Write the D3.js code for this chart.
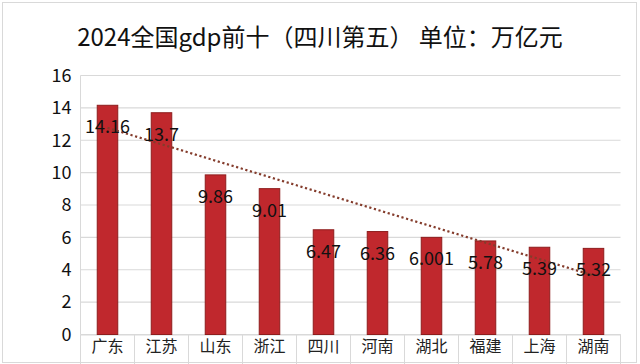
<!DOCTYPE html>
<html>
<head>
<meta charset="utf-8">
<script src="https://cdn.jsdelivr.net/npm/d3@7"></script>
<style>
  html, body { margin: 0; padding: 0; background: #fff; }
  text { font-family: "Noto Sans CJK SC", "Noto Sans", sans-serif; }
</style>
</head>
<body>
<div id="chart"></div>
<script>
// 数据
const provinces = ["广东", "江苏", "山东", "浙江", "四川", "河南", "湖北", "福建", "上海", "湖南"];
const gdp = [14.16, 13.7, 9.86, 9.01, 6.47, 6.36, 6.001, 5.78, 5.39, 5.32];
const yTicks = [0, 2, 4, 6, 8, 10, 12, 14, 16];
const title = "2024全国gdp前十（四川第五） 单位：万亿元";

const W = 640, H = 364;
const margin = {top: 75.5, right: 19.5, bottom: 29.5, left: 80.5};
const width = W - margin.left - margin.right,
  height = H - margin.top - margin.bottom;

const svg = d3.select("#chart").append("svg")
  .attr("width", W)
  .attr("height", H);

// 外框
svg.append("rect")
  .attr("x", 2.5).attr("y", 2.5)
  .attr("width", 634).attr("height", 360)
  .attr("fill", "none")
  .attr("stroke", "#d9d9d9");

svg.append("text")
  .attr("x", 320).attr("y", 46)
  .attr("text-anchor", "middle")
  .attr("font-size", "24px")
  .attr("fill", "#111")
  .text(title);

const g = svg.append("g")
  .attr("transform", "translate(" + margin.left + "," + margin.top + ")");

const x = d3.scaleBand().domain(provinces).range([0, width]);
const y = d3.scaleLinear().domain([0, 16]).range([height, 0]);

// 网格线
g.selectAll(".grid")
  .data(yTicks)
  .enter().append("line")
    .attr("x1", 0).attr("x2", width)
    .attr("y1", d => y(d)).attr("y2", d => y(d))
    .attr("stroke", "#d9d9d9")
    .attr("stroke-width", 1.2);

g.append("line")
  .attr("x1", 0).attr("x2", 0)
  .attr("y1", 0).attr("y2", height)
  .attr("stroke", "#d9d9d9");

// y 轴
const yAxis = g.append("g")
  .call(d3.axisLeft(y).tickValues(yTicks).tickSize(0).tickPadding(9));
yAxis.select(".domain").remove();
yAxis.selectAll("text")
  .attr("font-size", "18px")
  .attr("fill", "#111")
  .attr("font-family", "'Noto Sans CJK SC', sans-serif");

// x 轴分隔线
const edges = provinces.map(p => x(p)).concat([width]);
g.selectAll(".sep")
  .data(edges)
  .enter().append("line")
    .attr("x1", d => d).attr("x2", d => d)
    .attr("y1", height).attr("y2", height + 30)
    .attr("stroke", "#d9d9d9");

const xAxis = g.append("g")
  .attr("transform", "translate(0," + height + ")")
  .call(d3.axisBottom(x).tickSize(0).tickPadding(6));
xAxis.select(".domain").attr("stroke", "#d9d9d9");
xAxis.selectAll("text")
  .attr("font-size", "16px")
  .attr("fill", "#222")
  .attr("font-family", "'Noto Sans CJK SC', sans-serif");

// 柱子
const barW = x.bandwidth() * 0.38;
g.selectAll(".bar")
  .data(gdp)
  .enter().append("rect")
    .attr("x", (d, i) => x(provinces[i]) + (x.bandwidth() - barW) / 2)
    .attr("y", d => y(d))
    .attr("width", barW)
    .attr("height", d => height - y(d))
    .attr("fill", "#c0282d")
    .attr("stroke", "#8e1d1d")
    .attr("stroke-width", 1);

// 线性趋势线 (最小二乘)
const n = gdp.length;
const mx = d3.mean(gdp, (d, i) => i), my = d3.mean(gdp);
const slope = d3.sum(gdp, (d, i) => (i - mx) * (d - my)) / d3.sum(gdp, (d, i) => (i - mx) * (i - mx));
const trend = [0, n - 1].map(i => [x(provinces[i]) + x.bandwidth() / 2, y(my + slope * (i - mx))]);
g.append("path")
  .attr("d", d3.line()(trend))
  .attr("fill", "none")
  .attr("stroke", "#843c2c")
  .attr("stroke-width", 2.2)
  .attr("stroke-dasharray", "2.2,2.6");

// 数据标签
g.selectAll(".lbl")
  .data(gdp)
  .enter().append("text")
    .attr("x", (d, i) => x(provinces[i]) + x.bandwidth() / 2)
    .attr("y", d => y(d) + 28)
    .attr("text-anchor", "middle")
    .attr("font-size", "18px")
    .attr("fill", "#111")
    .text(d => String(d));
</script>
</body>
</html>
